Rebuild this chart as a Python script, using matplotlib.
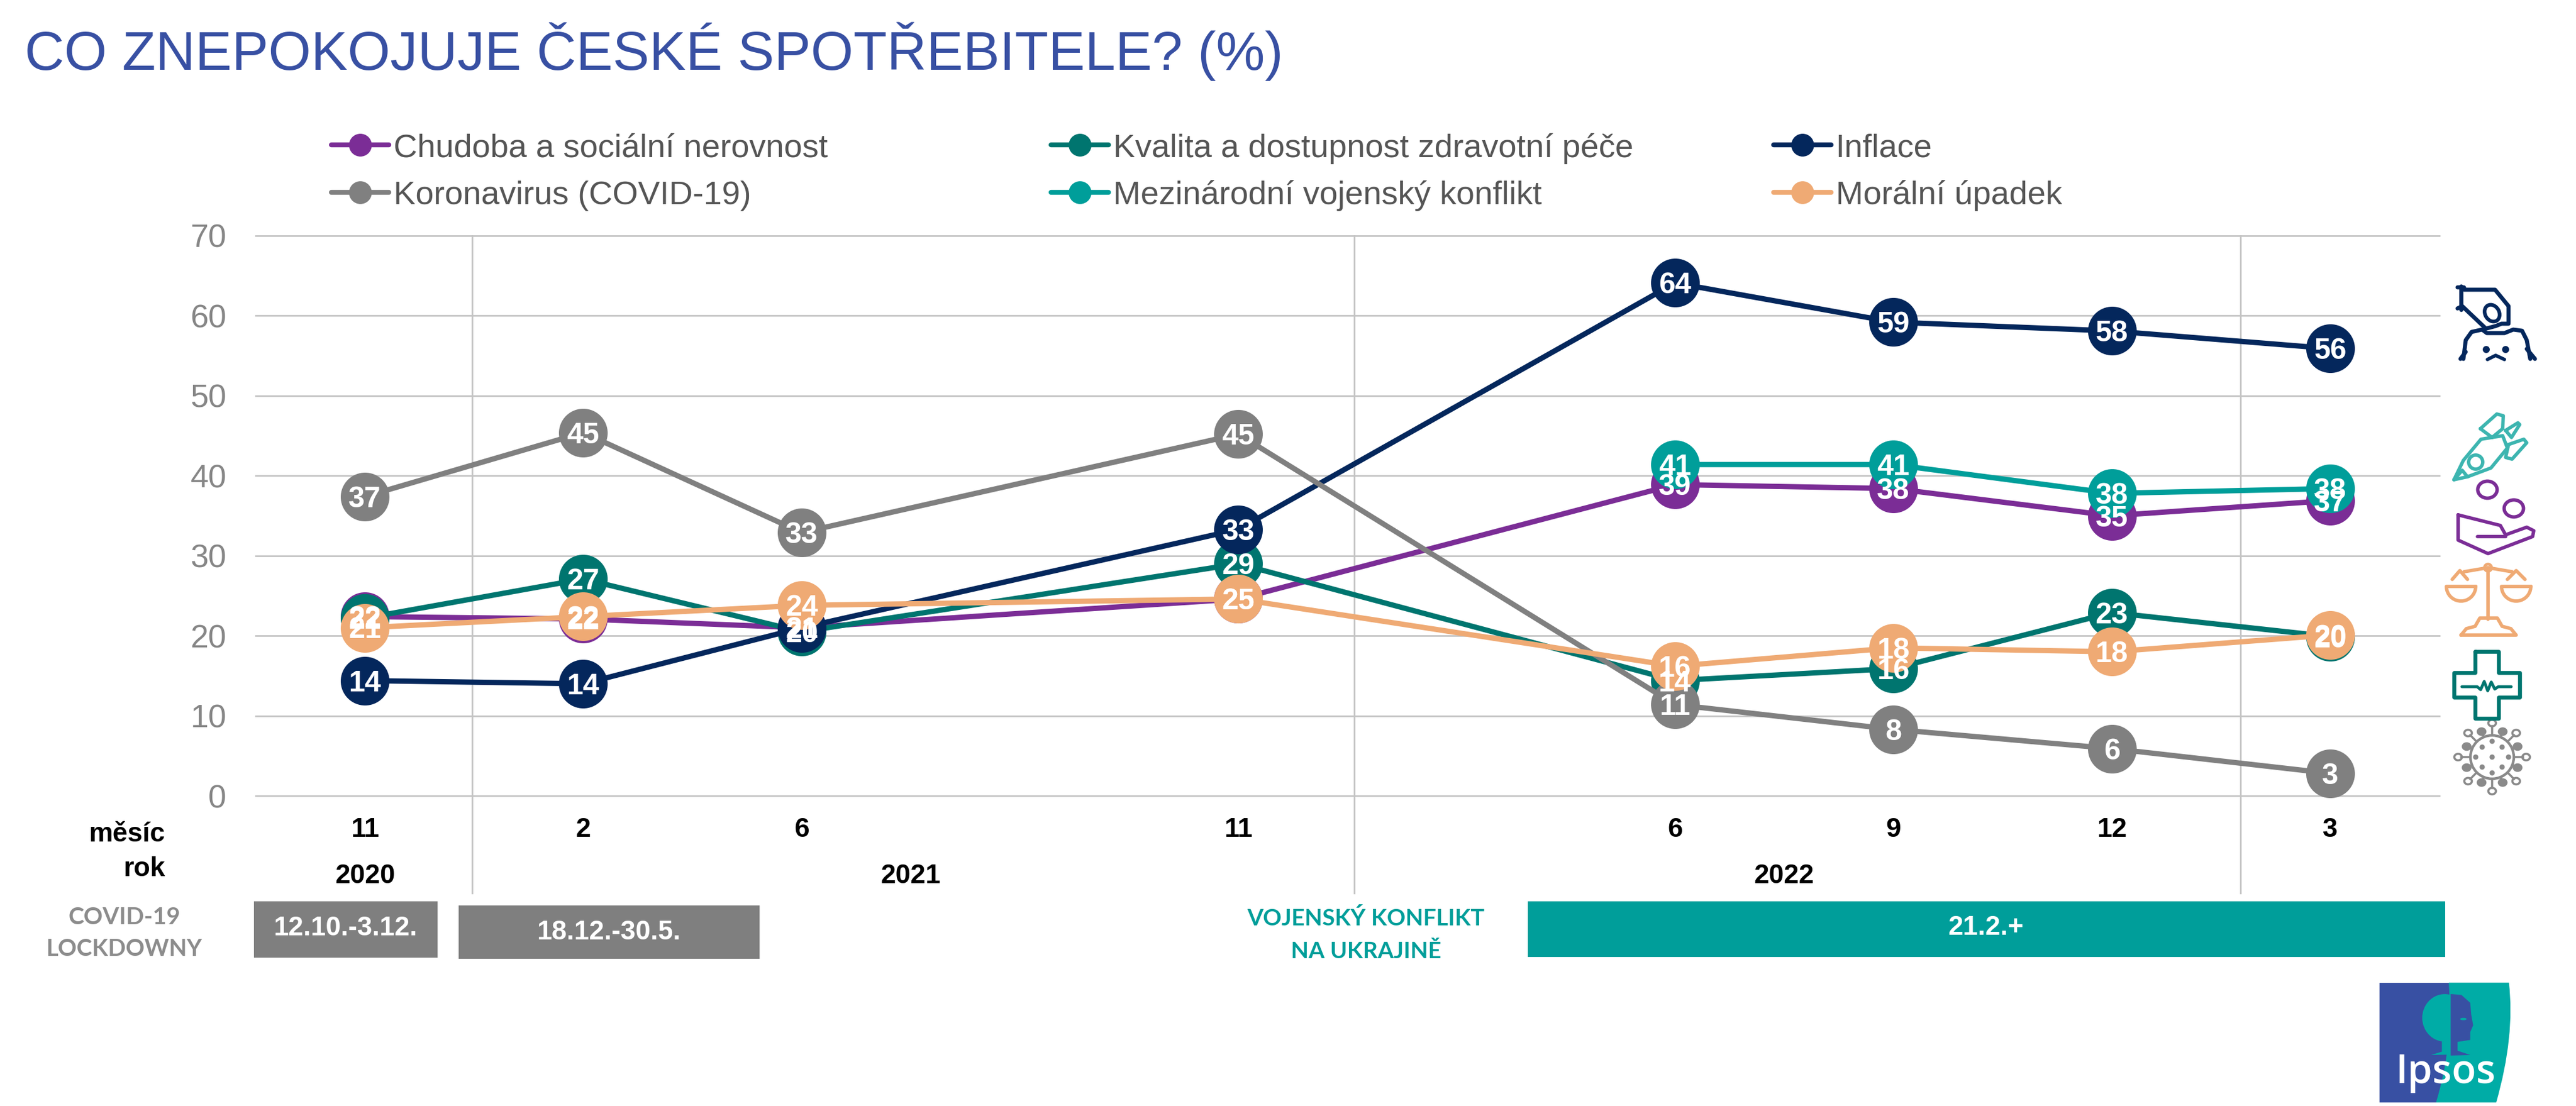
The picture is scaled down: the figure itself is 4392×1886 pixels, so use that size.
import numpy as np
import matplotlib
matplotlib.use('Agg')
import matplotlib.pyplot as plt
from matplotlib.patches import Rectangle, Circle, Ellipse, Polygon, PathPatch
from matplotlib.path import Path

plt.rcParams['font.family'] = ['Liberation Sans', 'DejaVu Sans']

W, H = 4392, 1886

# data
x_pos = [0, 1, 2, 4, 6, 7, 8, 9]
months = ['11', '2', '6', '11', '6', '9', '12', '3']
years = ['2020', '2021', '2022']
year_pos = [0, 2.5, 6.5]
year_breaks = [0.49, 4.53, 8.59]
y_ticks = [0, 10, 20, 30, 40, 50, 60, 70]

chudoba = [22.4, 22.1, 21.0, 24.6, 38.9, 38.4, 35.0, 36.9]
kvalita = [22.2, 27.1, 20.5, 29.0, 14.4, 15.9, 22.9, 19.9]
inflace = [14.4, 14.0, 21.0, 33.3, 64.1, 59.2, 58.1, 55.9]
covid = [37.4, 45.4, 32.9, 45.2, 11.4, 8.3, 5.9, 2.8]
konflikt = [np.nan, np.nan, np.nan, np.nan, 41.4, 41.4, 37.8, 38.4]
moralni = [21.0, 22.4, 23.8, 24.6, 16.2, 18.49, 18.0, 20.1]

names = ['Chudoba a sociální nerovnost', 'Kvalita a dostupnost zdravotní péče', 'Inflace',
         'Koronavirus (COVID-19)', 'Mezinárodní vojenský konflikt', 'Morální úpadek']
series = [chudoba, kvalita, inflace, covid, konflikt, moralni]
colors = ['#7B2D96', '#00756F', '#04275C', '#808080', '#009E9A', '#EFAA74']

legend_x = [565, 1792, 3024, 565, 1792, 3024]
legend_y = [247, 247, 247, 328, 328, 328]

fig = plt.figure(figsize=(W / 100, H / 100), dpi=100)
ax = fig.add_axes([436 / W, 1 - 1357 / H, (4159 - 436) / W, (1357 - 402) / H])

ax.set_xlim(-0.5, 9.5)
ax.set_ylim(0, 70)
for s in ax.spines.values():
    s.set_visible(False)
ax.set_yticks(y_ticks)
ax.set_xticks(x_pos)
ax.set_xticklabels(months, fontsize=33, fontweight='bold', color='black')
ax.tick_params(axis='x', length=0, pad=26)
ax.tick_params(axis='y', length=0, pad=36, labelsize=40, labelcolor='#868686')
ax.grid(axis='y', color='#C4C4C4', lw=2.0, zorder=0)
ax.set_axisbelow(True)
for g in ax.get_ygridlines():
    g.set_clip_on(False)

# year separators run down past the axis
for b in year_breaks:
    ax.plot([b, b], [70, -12.2], color='#C4C4C4', lw=2.0, clip_on=False, zorder=1)

for i, (vals, c) in enumerate(zip(series, colors)):
    ax.plot(x_pos, vals, color=c, lw=6.5, marker='o', ms=59.8, mew=0, zorder=3 + i, clip_on=False)

# data labels sit above all the series
for vals in series:
    for x, v in zip(x_pos, vals):
        if not np.isnan(v):
            ax.text(x, v, '{:.0f}'.format(v), ha='center', va='center_baseline', color='white',
                    fontsize=36, fontweight='bold', zorder=20)

for x, y in zip(year_pos, years):
    ax.annotate(y, xy=(x, 0), xycoords=('data', 'axes fraction'), xytext=(0, -137 * 0.72),
                textcoords='offset points', ha='center', va='center', fontsize=33,
                fontweight='bold', color='black')

# overlay in image pixels for everything around the chart
top = fig.add_axes([0, 0, 1, 1], zorder=5)
top.set_xlim(0, W)
top.set_ylim(H, 0)
top.axis('off')
top.patch.set_alpha(0)

top.text(42, 88, 'CO ZNEPOKOJUJE ČESKÉ SPOTŘEBITELE? (%)', fontsize=67.3, color='#3850A3',
         ha='left', va='center')

for name, c, lx, ly in zip(names, colors, legend_x, legend_y):
    top.plot([lx, lx + 98], [ly, ly], color=c, lw=6, solid_capstyle='round')
    top.plot([lx + 49], [ly], 'o', color=c, ms=28, mew=0)
    top.text(lx + 106, ly, name, fontsize=40.3, color='#555555', ha='left', va='center_baseline')

top.text(282, 1423, 'měsíc', fontsize=33, fontweight='bold', ha='right', va='center')
top.text(282, 1482, 'rok', fontsize=33, fontweight='bold', ha='right', va='center')

top.add_patch(Rectangle((433, 1537), 313, 96, fc='#7F7F7F', ec='none'))
top.add_patch(Rectangle((782, 1544), 513, 91, fc='#7F7F7F', ec='none'))
top.add_patch(Rectangle((2605, 1537), 1564, 95, fc='#009E9A', ec='none'))
top.text(589, 1583, '12.10.-3.12.', color='white', fontsize=33, fontweight='bold', ha='center', va='center')
top.text(1038, 1590, '18.12.-30.5.', color='white', fontsize=33, fontweight='bold', ha='center', va='center')
top.text(3386, 1582, '21.2.+', color='white', fontsize=33, fontweight='bold', ha='center', va='center')

top.text(212, 1565, 'COVID-19', color='#8C8C8C', fontsize=29, fontweight='bold', family='Lato', ha='center', va='center')
top.text(212, 1618, 'LOCKDOWNY', color='#8C8C8C', fontsize=28.5, fontweight='bold', family='Lato', ha='center', va='center')
top.text(2329, 1566, 'VOJENSKÝ KONFLIKT', color='#009E9A', fontsize=28.3, fontweight='bold', family='Lato', ha='center', va='center')
top.text(2329, 1622, 'NA UKRAJINĚ', color='#009E9A', fontsize=28.3, fontweight='bold', family='Lato', ha='center', va='center')


def line(pts, c, lw=4.2, closed=False):
    pts = np.array(pts)
    if closed:
        pts = np.vstack([pts, pts[:1]])
    top.plot(pts[:, 0], pts[:, 1], color=c, lw=lw, solid_joinstyle='round', solid_capstyle='round')


# icons on the right
navy, ros, purple, orange, dteal, grey = '#04275C', '#3DB5B0', '#7B2D96', '#EFAA74', '#00756F', '#8A8A8A'

# piggy bank and hand
line([(4196, 488), (4196, 528)], navy, lw=5)
line([(4190, 490), (4201, 490), (4201, 494), (4254, 494), (4277, 522), (4277, 550)], navy, lw=5)
line([(4190, 526), (4198, 522), (4237, 559)], navy, lw=5)
top.add_patch(Ellipse((4249, 534), 24, 30, angle=-30, fc='none', ec=navy, lw=4.5))
line([(4240, 560), (4255, 556), (4265, 552), (4277, 552)], navy, lw=5)
line([(4200, 612), (4204, 580), (4214, 566), (4232, 562), (4240, 568), (4270, 568), (4285, 562),
      (4300, 564), (4308, 580), (4314, 612)], navy, lw=5)
line([(4195, 612), (4204, 600)], navy, lw=5)
line([(4322, 612), (4308, 595)], navy, lw=5)
top.add_patch(Circle((4239, 596), 6, fc=navy, ec='none'))
top.add_patch(Circle((4272, 596), 6, fc=navy, ec='none'))
line([(4241, 613), (4255, 606), (4270, 613)], navy)

# rocket
line([(4184, 818), (4200, 785), (4230, 749), (4267, 743), (4275, 764), (4247, 798), (4207, 813)], ros, closed=True)
top.add_patch(Ellipse((4221, 788), 24, 24, fc='none', ec=ros, lw=4.2))
line([(4229, 731), (4257, 706), (4268, 709), (4267, 731), (4249, 746)], ros, closed=True)
line([(4272, 734), (4293, 721), (4296, 724), (4282, 746)], ros, closed=True)
line([(4277, 758), (4303, 749), (4308, 755), (4283, 783), (4272, 780)], ros, closed=True)
line([(4184, 818), (4198, 802), (4207, 813)], ros)

# hand with coins
top.add_patch(Ellipse((4241, 835), 33, 29, fc='none', ec=purple, lw=4.2))
top.add_patch(Ellipse((4286, 867), 33, 29, fc='none', ec=purple, lw=4.2))
line([(4191, 878), (4191, 921), (4242, 944), (4318, 915), (4320, 905), (4308, 899), (4272, 912),
      (4263, 896), (4215, 884)], purple, closed=True)
line([(4224, 915), (4272, 915)], purple)

# scales
line([(4242, 970), (4242, 1056)], orange)
line([(4201, 975), (4242, 968), (4283, 975)], orange)
top.add_patch(Circle((4242, 968), 6, fc='white', ec=orange, lw=3.5))
line([(4181, 988), (4194, 973), (4207, 988)], orange)
line([(4275, 988), (4290, 973), (4305, 988)], orange)
pan = np.linspace(0, np.pi, 20)
for cx in (4196, 4290):
    line(np.column_stack([cx + 25 * np.cos(pan), 1000 + 25 * np.sin(pan)]), orange, closed=True)
line([(4196, 1083), (4205, 1072), (4220, 1068), (4228, 1054), (4258, 1054), (4266, 1068), (4281, 1072), (4290, 1083)],
     orange, closed=True)

# medical cross
cx, cy = 4239.5, 1168
a, b, d = 56, 20, 21
cross = [(-b, -57), (b, -57), (b, -d), (a, -d), (a, d), (b, d), (b, 57), (-b, 57), (-b, d), (-a, d), (-a, -d), (-b, -d)]
line([(cx + p, cy + q) for p, q in cross], dteal, lw=4.8, closed=True)
beat = [(-42, 3), (-16, 3), (-10, 8), (-4, -6), (2, 10), (8, -5), (14, 7), (20, 3), (42, 3)]
line([(cx + p, cy + q) for p, q in beat], dteal, lw=3.6)

# virus
cx, cy = 4249, 1291
top.add_patch(Circle((cx, cy), 37, fc='none', ec=grey, lw=3.2))
for i, ang in enumerate(np.arange(0, 360, 22.5)):
    t = np.deg2rad(ang)
    r = 58 if i % 2 == 0 else 47
    line([(cx + 37 * np.cos(t), cy + 37 * np.sin(t)), (cx + (r - 5) * np.cos(t), cy + (r - 5) * np.sin(t))], grey, lw=2.6)
    top.add_patch(Ellipse((cx + r * np.cos(t), cy + r * np.sin(t)), 13, 11, fc='none' if i % 2 == 0 else grey, ec=grey, lw=2.6))
for dx, dy in [(0, 0), (-17, -17), (17, -17), (-17, 17), (17, 17), (0, -27), (0, 27), (-28, 0), (28, 0)]:
    top.add_patch(Circle((cx + dx, cy + dy), 4.5, fc=grey, ec='none'))


# logo
def gx(v):
    return 3900 + v / 3


def gy(v):
    return 1500 + v / 3


blue, teal = '#3850A3', '#00ACA6'
top.add_patch(Rectangle((gx(472), gy(527)), gx(1000) - gx(472), gy(1140) - gy(527), fc=blue, ec='none'))
verts = [(gx(825), gy(527)), (gx(1133), gy(527)), (gx(1165), gy(800)), (gx(1068), gy(1140)),
         (gx(760), gy(1140)), (gx(850), gy(850)), (gx(825), gy(527))]
codes = [Path.MOVETO, Path.LINETO, Path.CURVE3, Path.CURVE3, Path.LINETO, Path.CURVE3, Path.CURVE3]
top.add_patch(PathPatch(Path(verts, codes), fc=teal, ec='none'))
top.add_patch(Ellipse((gx(805), gy(707)), 77, 81, fc=teal, ec='none'))
top.add_patch(Polygon([(gx(p), gy(q)) for p, q in [(790, 810), (838, 810), (838, 895), (735, 897), (790, 880)]], fc=teal, ec='none'))
face = [(835, 585), (890, 590), (935, 630), (940, 690), (950, 745), (935, 780), (935, 820), (870, 830),
        (870, 875), (935, 897), (835, 900)]
top.add_patch(Polygon([(gx(p), gy(q)) for p, q in face], fc=blue, ec='none'))
top.add_patch(Ellipse((gx(900), gy(713)), 11, 4, fc=teal, ec='none'))
top.text(gx(555), gy(1040), 'Ipsos', color='white', fontsize=49, family='Open Sans', fontweight='semibold', ha='left', va='baseline')

fig.savefig('out.png', dpi=100, facecolor='white')
